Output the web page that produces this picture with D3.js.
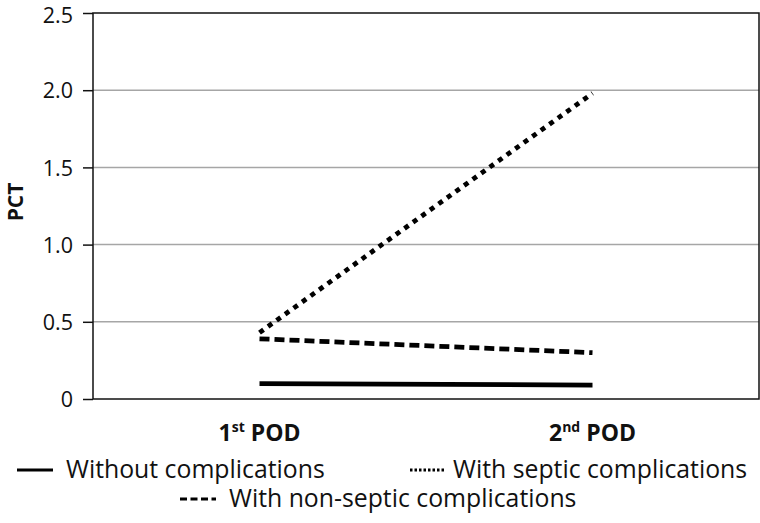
<!DOCTYPE html>
<html><head><meta charset="utf-8">
<script src="https://cdn.jsdelivr.net/npm/d3@7"></script>
<style>body{margin:0;background:#fff}svg{display:block}text{font-family:"Open Sans","Noto Sans",sans-serif;fill:#111}</style>
</head><body>
<svg id="c" width="760" height="523"></svg>
<script>
const categories = ["1st POD", "2nd POD"];
const catBase = ["1", "2"];
const catSup = ["st", "nd"];
const yTicks = [0, 0.5, 1.0, 1.5, 2.0, 2.5];
const yTickLabels = ["0", "0.5", "1.0", "1.5", "2.0", "2.5"];
const seriesNames = ["Without complications", "With septic complications", "With non-septic complications"];
const withoutComp = [0.10, 0.09];
const septicComp = [0.43, 1.98];
const nonSepticComp = [0.39, 0.30];
const seriesValues = [withoutComp, septicComp, nonSepticComp];
const dashes = [null, "5,5.5", "10,5"];
const legendDashes = [null, "2.5,2", "7,3.5"];

const svg = d3.select("#c");
const m = {l: 93, r: 759, t: 13, b: 399};
const x = d3.scaleBand().domain(categories).range([m.l, m.r]);
const y = d3.scaleLinear().domain([0, 2.5]).range([m.b, m.t]);

// gridlines
svg.append("g").selectAll("line").data(yTicks.filter(d => d > 0 && d < 2.5)).join("line")
  .attr("x1", m.l).attr("x2", m.r).attr("y1", d => y(d)).attr("y2", d => y(d))
  .attr("stroke", "#a6a6a6").attr("stroke-width", 1.5);

// y axis
const ya = svg.append("g").attr("transform", `translate(${m.l},0)`)
  .call(d3.axisLeft(y).tickValues(yTicks).tickFormat((d, i) => yTickLabels[i]).tickSize(10).tickPadding(10));
ya.select(".domain").remove();
ya.selectAll(".tick line").attr("stroke", "#111").attr("stroke-width", 1.5);
ya.selectAll(".tick text").attr("font-size", 21.5).attr("fill", "#111")
  .attr("dy", d => d === 2.5 ? "0.46em" : "0.36em");

// frame
svg.append("rect").attr("x", m.l).attr("y", m.t).attr("width", m.r - m.l).attr("height", m.b - m.t)
  .attr("fill", "none").attr("stroke", "#111").attr("stroke-width", 1.5);

// x labels
const xl = svg.append("g").selectAll("text").data(categories).join("text")
  .attr("x", d => x(d) + x.bandwidth() / 2).attr("y", 441)
  .attr("text-anchor", "middle").attr("font-size", 23).attr("font-weight", "bold");
xl.append("tspan").text((d, i) => catBase[i]);
xl.append("tspan").text((d, i) => catSup[i]).attr("font-size", 14).attr("dy", -9);
xl.append("tspan").text(" POD").attr("dy", 9);

// y title
svg.append("text").attr("transform", "translate(23,202) rotate(-90)").attr("text-anchor", "middle")
  .attr("font-size", 21).attr("font-weight", "bold").text("PCT");

// lines
const line = d3.line().x((d, i) => x(categories[i]) + x.bandwidth() / 2).y(d => y(d));
const order = [0, 2, 1];
order.forEach(si => {
  svg.append("path").attr("d", line(seriesValues[si])).attr("fill", "none")
    .attr("stroke", "#000").attr("stroke-width", 4.8)
    .attr("stroke-dasharray", dashes[si]);
});

// legend
const leg = [
  {i: 0, x: 17, tx: 66, y: 478},
  {i: 1, x: 410, tx: 453, y: 478},
  {i: 2, x: 180, tx: 229, y: 507}
];
leg.forEach(L => {
  svg.append("line").attr("x1", L.x).attr("x2", L.x + 36).attr("y1", L.y - 8).attr("y2", L.y - 8)
    .attr("stroke", "#000").attr("stroke-width", 3).attr("stroke-dasharray", legendDashes[L.i]);
  svg.append("text").attr("x", L.tx).attr("y", L.y).attr("font-size", 24.8).text(seriesNames[L.i]);
});
</script>
</body></html>
